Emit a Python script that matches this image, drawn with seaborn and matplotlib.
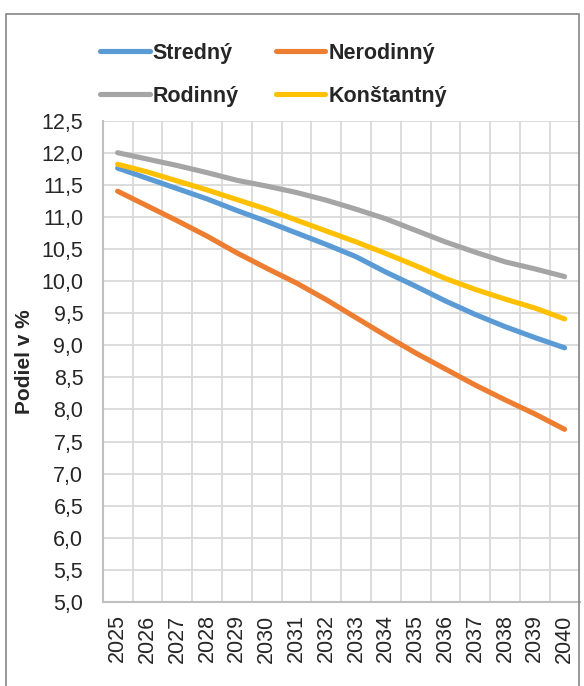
import numpy as np
import pandas as pd
import matplotlib
matplotlib.use("Agg")
import matplotlib.pyplot as plt
from matplotlib.patches import Rectangle
from matplotlib.ticker import FuncFormatter, MultipleLocator
import seaborn as sns

# --- DATA ----------------------------------------------------------------------

YEARS = list(range(2025, 2041))
SERIES = ["Stredný", "Nerodinný", "Rodinný", "Konštantný"]

STREDNY    = [11.76, 11.60, 11.44, 11.28, 11.10, 10.93, 10.75, 10.57,
              10.38, 10.14, 9.92, 9.69, 9.48, 9.29, 9.12, 8.96]
NERODINNY  = [11.40, 11.17, 10.94, 10.70, 10.44, 10.20, 9.97, 9.71,
              9.43, 9.15, 8.88, 8.63, 8.38, 8.15, 7.93, 7.69]
RODINNY    = [12.00, 11.90, 11.80, 11.69, 11.57, 11.48, 11.38, 11.26,
              11.12, 10.97, 10.79, 10.61, 10.45, 10.30, 10.19, 10.07]
KONSTANTNY = [11.82, 11.70, 11.56, 11.42, 11.27, 11.12, 10.95, 10.78,
              10.61, 10.43, 10.24, 10.04, 9.87, 9.72, 9.58, 9.41]

COLORS = ["#5B9BD5", "#ED7D31", "#A5A5A5", "#FFC000"]
Y_LABEL = "Podiel v %"

# --- TABULKA -------------------------------------------------------------------

df = pd.concat([
    pd.DataFrame({"Rok": YEARS, "Podiel": vals, "Scenar": name})
    for name, vals in zip(SERIES, [STREDNY, NERODINNY, RODINNY, KONSTANTNY])
], ignore_index=True)

# --- WYKRES --------------------------------------------------------------------

sns.set_theme(style="white")
plt.rcParams["font.family"] = ["Liberation Sans", "DejaVu Sans"]

fig = plt.figure(figsize=(5.84, 6.86), dpi=100)
ax = fig.add_axes([102.7 / 584, 1 - 602 / 686, (579.5 - 102.7) / 584,
                   (602 - 120.6) / 686])

sns.lineplot(data=df, x="Rok", y="Podiel", hue="Scenar", hue_order=SERIES,
             palette=COLORS, linewidth=3.7, ax=ax, legend=True,
             solid_capstyle="round")

ax.set_xlim(YEARS[0] - 0.5, YEARS[-1] + 0.5)
ax.set_ylim(5.0, 12.5)
ax.set_xticks(YEARS)
ax.set_xticklabels([str(y) for y in YEARS], rotation=90, fontsize=15.5)
ax.xaxis.set_minor_locator(MultipleLocator(1, offset=0.5))
ax.yaxis.set_major_locator(MultipleLocator(0.5))
ax.yaxis.set_major_formatter(FuncFormatter(lambda v, _: f"{v:.1f}".replace(".", ",")))
ax.tick_params(axis="y", labelsize=15.5, length=0, pad=14)
ax.tick_params(axis="x", which="both", length=0, pad=9)

ax.grid(True, axis="y", which="major", color="#d9d9d9", linewidth=1.3)
ax.grid(True, axis="x", which="minor", color="#d9d9d9", linewidth=1.3)
ax.set_axisbelow(True)
for side in ["top", "right"]:
    ax.spines[side].set_visible(False)
for side in ["left", "bottom"]:
    ax.spines[side].set_color("#bfbfbf")
    ax.spines[side].set_linewidth(1.5)

ax.set_xlabel("")
ax.set_ylabel(Y_LABEL, fontsize=15, fontweight="bold", labelpad=5)

# Legenda: 2 wiersze x 2 kolumny
handles, labels = ax.get_legend_handles_labels()
order = [0, 2, 1, 3]
ax.legend([handles[i] for i in order], [labels[i] for i in order],
          ncol=2, frameon=False, loc="upper left",
          bbox_to_anchor=(100 / 584, 1 - 43 / 686), bbox_transform=fig.transFigure,
          prop={"weight": "bold", "size": 15.5}, handlelength=2.3,
          handletextpad=0.15, columnspacing=1.72, labelspacing=1.0,
          borderpad=0, borderaxespad=0)
for line in ax.get_legend().get_lines():
    line.set_linewidth(3.7)
    line.set_solid_capstyle("round")

# Ramka wykresu
fig.patches.append(Rectangle((6 / 584, -0.05), (579 - 6) / 584, 1.05 - 14 / 686,
                             transform=fig.transFigure, fill=False,
                             edgecolor="#868686", linewidth=1.2))

plt.savefig("out.png", dpi=100)
plt.close()
